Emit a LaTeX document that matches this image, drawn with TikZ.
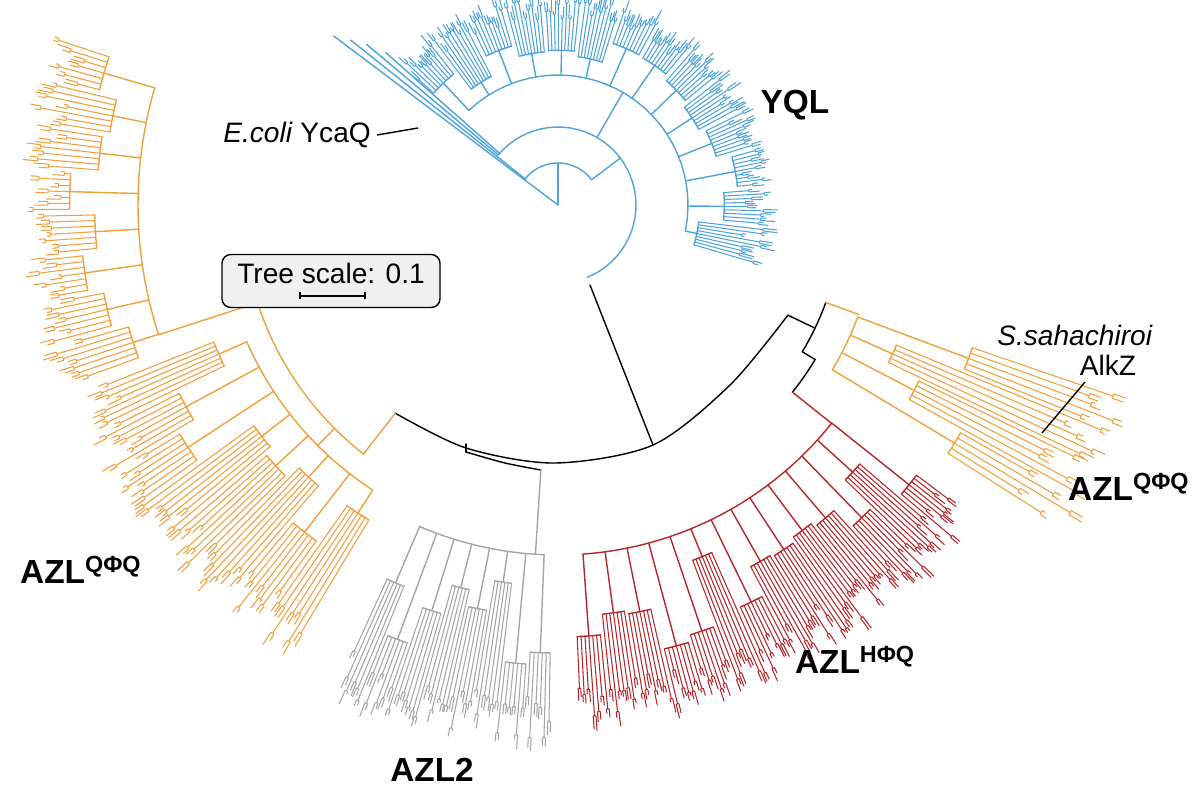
\documentclass[tikz,border=0pt]{standalone}
\usepackage{fontspec}
\setmainfont{Liberation Sans}
\definecolor{tblue}{RGB}{78,163,218}
\definecolor{torange}{RGB}{240,160,60}
\definecolor{tred}{RGB}{178,40,44}
\definecolor{tgray}{RGB}{165,165,165}
\tikzset{br/.style={line width=0.8pt,line cap=round,line join=round},
 lf/.style={line width=0.6pt},
 lbl/.style={font=\fontsize{19}{22}\selectfont\bfseries},
 txt/.style={font=\fontsize{16}{18}\selectfont}}
\newcommand\myclade[9]{%
 \pgfmathsetseed{#9}%
 \pgfmathsetmacro\cw{(#3-#2)/#6}%
 \pgfmathsetmacro\ma{#2+0.425*\cw}%
 \pgfmathsetmacro\mb{#3-0.575*\cw}%
 \draw[br,#1] plot[domain=\ma:\mb,samples=30] (\x:#4);
 \foreach \g in {1,...,#6}{%
  \pgfmathsetmacro\ga{#2+(\g-1)*\cw}%
  \pgfmathsetmacro\gb{#2+\g*\cw-0.15*\cw}%
  \pgfmathsetmacro\gm{(\ga+\gb)/2}%
  \pgfmathsetmacro\rg{#4+(#5-#4)*(0.15+0.5*rnd)}%
  \draw[br,#1] (\gm:#4)--(\gm:\rg);
  \draw[br,#1] plot[domain=\ga:\gb,samples=10] (\x:\rg);
  \pgfmathtruncatemacro\lm{#7-1}%
  \foreach \l in {0,...,\lm}{%
   \pgfmathsetmacro\la{\ga+\l*(\gb-\ga)/\lm}%
   \pgfmathsetmacro\rl{#5-#8*rnd}%
   \pgfmathsetmacro\dd{0.3*(\gb-\ga)/\lm}%
   \pgfmathsetmacro\ta{\rl+3+12*rnd}%
   \pgfmathsetmacro\tb{\rl+3+12*rnd}%
   \draw[lf,#1] (\la:\rg)--(\la:\rl);
   \draw[lf,#1] plot[domain=\la-\dd:\la+\dd,samples=4] (\x:\rl);
   \draw[lf,#1] (\la-\dd:\rl)--(\la-\dd:\ta) (\la+\dd:\rl)--(\la+\dd:\tb);
  }%
 }%
}
\begin{document}
\begin{tikzpicture}[x=0.02cm,y=-0.02cm]
\useasboundingbox (0,0) rectangle (1199,799);
\coordinate (bl) at (395,413);
\coordinate (br) at (788,315);
\coordinate (rt) at (590,285);
\coordinate (rj) at (653,445);
\draw[br,black] plot[smooth] coordinates {(395,413) (466,448) (555,463) (653,445) (730,385) (788,315)};
\draw[br,black] (rt)--(rj);
\draw[br,black] (466,444)--(466,452);
\draw[br,black] plot[smooth] coordinates {(466,452) (505,463) (541,470)};
\begin{scope}[shift={(558,205)}]
\draw[br,tblue] (270:0)--(270:42);
\draw[br,tblue] plot[domain=217:323,samples=30] (\x:42);
\draw[br,tblue] (217:0)--(217:281);
\draw[br,tblue] (323:42)--(323:78);
\draw[br,tblue] plot[domain=220:428,samples=40] (\x:78);
\draw[br,tblue] (220:78)--(220:250) (221.5:78)--(221.5:230) (218.5:42)--(218.5:265);
\draw[br,tblue] (300:78)--(300:130);
\myclade{tblue}{222}{378}{130}{208}{14}{9}{22}{11}
\draw[br,torange] (128:264)--(128:316);
\draw[br,torange] plot[domain=128:162,samples=20] (\x:316);
\draw[br,torange] (135:316)--(135:340);
\myclade{torange}{121}{159}{340}{515}{8}{7}{40}{23}
\draw[br,torange] (162:316)--(162:420);
\myclade{torange}{160}{199}{420}{528}{8}{7}{35}{29}
\draw[br,tgray] (93.7:265)--(93.7:350);
\myclade{tgray}{91}{115}{350}{535}{8}{6}{45}{37}
\draw[br,black] (25.6:255)--(25.6:285);
\draw[br,black] plot[domain=20:31,samples=8] (\x:285);
\draw[br,black] (31:285)--(31:300);
\draw[br,black] plot[domain=31:38.6,samples=6] (\x:300);
\draw[br,torange] (20:285)--(20:320);
\myclade{torange}{19}{33}{320}{600}{4}{5}{60}{41}
\draw[br,tred] (38.6:300)--(38.6:350);
\myclade{tred}{37}{88}{350}{515}{14}{7}{40}{53}
\end{scope}
\node[draw,rounded corners=5pt,fill=gray!12,line width=0.8pt,minimum width=218*0.02cm,minimum height=53*0.02cm] (box) at (331,281) {};
\node[txt] (ts) at (331,273) {Tree scale: 0.1};
\draw[line width=0.8pt] (300,296)--(365,296) (300,292)--(300,299) (365,292)--(365,299);
\node[lbl] (yql) at (795,105) {YQL};
\node[txt,anchor=east] (eco) at (377,135) {\textit{E.coli} YcaQ};
\coordinate (ecop) at (418,128);
\draw[line width=0.8pt] (eco.east)--(ecop);
\node[txt] (ss) at (1075,335) {\textit{S.sahachiroi}};
\node[txt] (alk) at (1108,365) {AlkZ};
\coordinate (alkp) at (1042,433);
\draw[line width=0.8pt] (1085,382)--(alkp);
\node[lbl,anchor=west] (azr) at (1062,487) {AZL\textsuperscript{QΦQ}};
\node[lbl,anchor=west] (azl) at (14,570) {AZL\textsuperscript{QΦQ}};
\node[lbl] (azh) at (855,660) {AZL\textsuperscript{HΦQ}};
\node[lbl] (az2) at (432,770) {AZL2};
\end{tikzpicture}
\end{document}
